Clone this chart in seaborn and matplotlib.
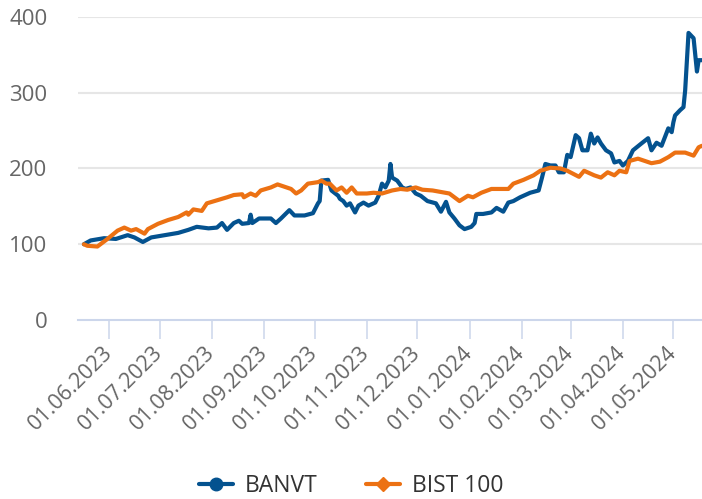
import matplotlib
matplotlib.use("Agg")
import matplotlib.pyplot as plt
import matplotlib.transforms as mtransforms
import pandas as pd
import seaborn as sns
from matplotlib.lines import Line2D

series_names = ["BANVT", "BIST 100"]
series_colors = ["#04528f", "#ec7113"]

banvt_dates = [
    "2023-05-17", "2023-05-21", "2023-05-29", "2023-06-05", "2023-06-12", "2023-06-16",
    "2023-06-21", "2023-06-26", "2023-07-04", "2023-07-12", "2023-07-18", "2023-07-23",
    "2023-07-30", "2023-08-04", "2023-08-07", "2023-08-10", "2023-08-14", "2023-08-17",
    "2023-08-19", "2023-08-23", "2023-08-24", "2023-08-25", "2023-08-29", "2023-09-05",
    "2023-09-08", "2023-09-11", "2023-09-16", "2023-09-19", "2023-09-25", "2023-09-30",
    "2023-10-03", "2023-10-04", "2023-10-05", "2023-10-09", "2023-10-11", "2023-10-15",
    "2023-10-16", "2023-10-18", "2023-10-20", "2023-10-22", "2023-10-25", "2023-10-27",
    "2023-10-30", "2023-11-02", "2023-11-06", "2023-11-08", "2023-11-10", "2023-11-12",
    "2023-11-14", "2023-11-15", "2023-11-16", "2023-11-19", "2023-11-22", "2023-11-24",
    "2023-11-27", "2023-11-30", "2023-12-03", "2023-12-07", "2023-12-12", "2023-12-15",
    "2023-12-18", "2023-12-20", "2023-12-23", "2023-12-26", "2023-12-29", "2024-01-02",
    "2024-01-04", "2024-01-05", "2024-01-09", "2024-01-14", "2024-01-17", "2024-01-21",
    "2024-01-24", "2024-01-27", "2024-01-31", "2024-02-06", "2024-02-11", "2024-02-13",
    "2024-02-15", "2024-02-18", "2024-02-21", "2024-02-23", "2024-02-26", "2024-02-28",
    "2024-03-01", "2024-03-04", "2024-03-06", "2024-03-08", "2024-03-11", "2024-03-13",
    "2024-03-15", "2024-03-17", "2024-03-19", "2024-03-22", "2024-03-25", "2024-03-27",
    "2024-03-30", "2024-04-01", "2024-04-04", "2024-04-07", "2024-04-12", "2024-04-16",
    "2024-04-18", "2024-04-21", "2024-04-24", "2024-04-28", "2024-04-30", "2024-05-01",
    "2024-05-02", "2024-05-05", "2024-05-07", "2024-05-08", "2024-05-10", "2024-05-13",
    "2024-05-15", "2024-05-16", "2024-05-18",
]
banvt_values = [
    100, 105, 108, 107, 112, 109,
    103, 109, 112, 115, 119, 123,
    121, 122, 128, 119, 128, 131,
    127, 128, 139, 128, 134, 134,
    128, 134, 145, 138, 138, 141,
    154, 157, 184, 185, 171, 164,
    160, 157, 151, 154, 142, 151,
    155, 151, 155, 164, 180, 175,
    184, 206, 188, 184, 175, 173,
    175, 167, 164, 157, 154, 143,
    156, 142, 134, 125, 120, 123,
    128, 140, 140, 142, 148, 143,
    155, 157, 162, 168, 171, 188,
    206, 204, 204, 195, 195, 218,
    215, 244, 240, 224, 224, 246,
    233, 241, 233, 224, 220, 208,
    210, 204, 210, 224, 233, 240,
    224, 234, 230, 253, 248, 261,
    270, 277, 281, 303, 379, 372,
    328, 343, 343,
]

bist_dates = [
    "2023-05-17", "2023-05-19", "2023-05-25", "2023-05-31", "2023-06-06", "2023-06-10",
    "2023-06-14", "2023-06-17", "2023-06-22", "2023-06-24", "2023-06-30", "2023-07-06",
    "2023-07-12", "2023-07-17", "2023-07-18", "2023-07-21", "2023-07-26", "2023-07-29",
    "2023-08-04", "2023-08-10", "2023-08-14", "2023-08-19", "2023-08-20", "2023-08-24",
    "2023-08-27", "2023-08-30", "2023-09-05", "2023-09-09", "2023-09-13", "2023-09-17",
    "2023-09-20", "2023-09-23", "2023-09-27", "2023-10-03", "2023-10-05", "2023-10-08",
    "2023-10-10", "2023-10-14", "2023-10-17", "2023-10-20", "2023-10-23", "2023-10-26",
    "2023-11-01", "2023-11-05", "2023-11-10", "2023-11-16", "2023-11-21", "2023-11-25",
    "2023-11-30", "2023-12-04", "2023-12-10", "2023-12-15", "2023-12-20", "2023-12-26",
    "2023-12-31", "2024-01-03", "2024-01-08", "2024-01-14", "2024-01-24", "2024-01-27",
    "2024-02-02", "2024-02-08", "2024-02-12", "2024-02-18", "2024-02-24", "2024-02-28",
    "2024-03-06", "2024-03-09", "2024-03-15", "2024-03-19", "2024-03-23", "2024-03-27",
    "2024-03-30", "2024-04-03", "2024-04-05", "2024-04-10", "2024-04-18", "2024-04-23",
    "2024-04-28", "2024-05-02", "2024-05-08", "2024-05-13", "2024-05-16", "2024-05-18",
]
bist_values = [
    100, 98, 97, 107, 118, 122,
    118, 120, 114, 120, 127, 132,
    136, 142, 139, 146, 144, 154,
    158, 162, 165, 166, 162, 167,
    164, 171, 175, 179, 176, 173,
    167, 171, 180, 182, 184, 180,
    180, 171, 175, 168, 175, 167,
    167, 168, 167, 171, 173, 172,
    175, 172, 171, 169, 167, 157,
    164, 162, 168, 173, 173, 180,
    185, 191, 197, 201, 200, 197,
    189, 197, 191, 188, 195, 191,
    197, 195, 210, 213, 207, 209,
    215, 221, 221, 217, 228, 230,
]

x_tick_labels = ["01.06.2023", "01.07.2023", "01.08.2023", "01.09.2023", "01.10.2023",
                 "01.11.2023", "01.12.2023", "01.01.2024", "01.02.2024", "01.03.2024",
                 "01.04.2024", "01.05.2024"]
y_ticks = [0, 100, 200, 300, 400]

df = pd.concat([
    pd.DataFrame({"date": pd.to_datetime(banvt_dates), "value": banvt_values, "series": series_names[0]}),
    pd.DataFrame({"date": pd.to_datetime(bist_dates), "value": bist_values, "series": series_names[1]}),
], ignore_index=True)

sns.set_theme(style="white")
plt.rcParams["font.family"] = ["Open Sans", "DejaVu Sans"]

W, H = 702, 499
fig = plt.figure(figsize=(W / 100, H / 100), dpi=100)
ax = fig.add_axes([78 / W, 1 - 320 / H, 1 - 78 / W, (320 - 17) / H])

sns.lineplot(data=df, x="date", y="value", hue="series", hue_order=series_names,
             palette=series_colors, linewidth=3, ax=ax, legend=False, sort=True,
             estimator=None)

ax.set_ylim(0, 400)
ax.set_xlim(pd.Timestamp(banvt_dates[0]) - pd.Timedelta(days=3.5), pd.Timestamp(banvt_dates[-1]))
ax.set_yticks(y_ticks)
ax.set_yticklabels([str(v) for v in y_ticks])
for v in y_ticks[1:]:
    ax.axhline(v, color="#e6e6e6", linewidth=1.5, zorder=0)

ax.set_xticks(pd.to_datetime(x_tick_labels, format="%d.%m.%Y"))
ax.set_xticklabels(x_tick_labels, rotation=45, ha="right", va="center", rotation_mode="anchor")
offset = mtransforms.ScaledTranslation(4 / 100, 0, fig.dpi_scale_trans)
for lbl in ax.get_xticklabels():
    lbl.set_transform(lbl.get_transform() + offset)

ax.set_xlabel("")
ax.set_ylabel("")
for side in ["top", "right", "left"]:
    ax.spines[side].set_visible(False)
ax.spines["bottom"].set_color("#ccd6eb")
ax.spines["bottom"].set_linewidth(1.5)

ax.tick_params(axis="x", length=13.5, width=1.1, color="#ccd6eb", labelsize=15.5,
               labelcolor="#666666", pad=8, bottom=True)
ax.tick_params(axis="y", length=0, labelsize=16, labelcolor="#666666", pad=22)

handles = [
    Line2D([], [], color=series_colors[0], linewidth=3, marker="o", markersize=9),
    Line2D([], [], color=series_colors[1], linewidth=3, marker="D", markersize=7),
]
fig.legend(handles, series_names, loc="center", bbox_to_anchor=(0.5, 1 - 486 / H),
           ncol=2, frameon=False, fontsize=16.5, handlelength=1.5, handletextpad=0.5,
           columnspacing=2.1, labelcolor="#333333")

fig.savefig("out.png", dpi=100)
